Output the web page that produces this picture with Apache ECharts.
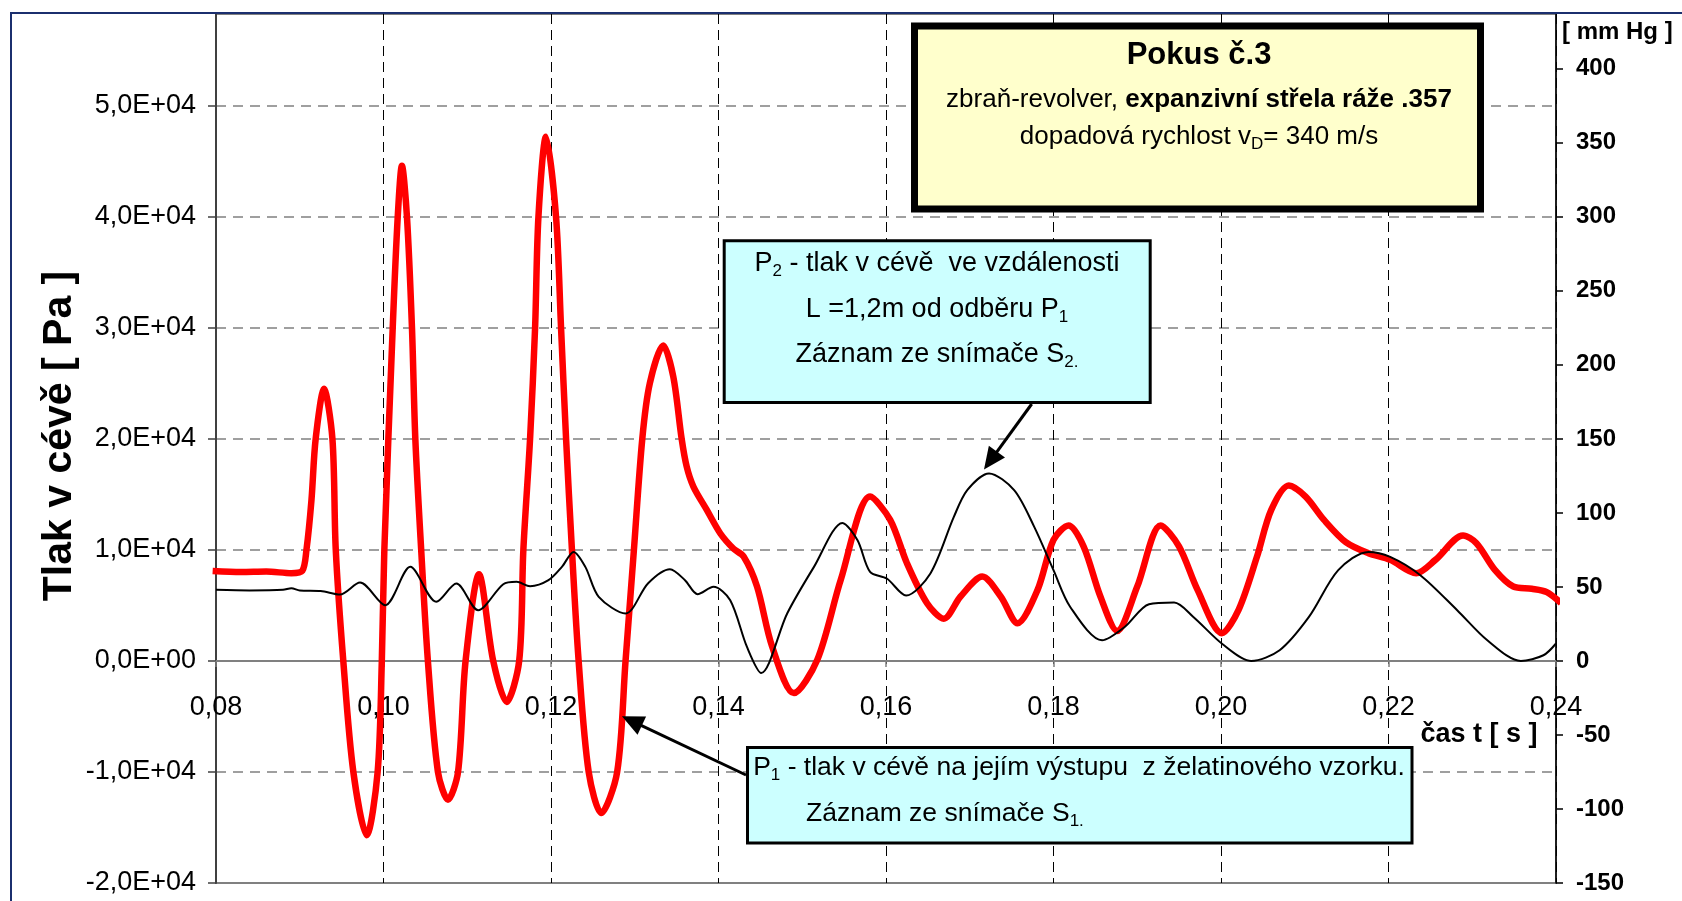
<!DOCTYPE html>
<html>
<head>
<meta charset="utf-8">
<script src="https://cdn.jsdelivr.net/npm/echarts@6/dist/echarts.min.js"></script>
<style>
html,body{margin:0;padding:0;background:#ffffff;}
#chart{width:1682px;height:901px;}
</style>
</head>
<body>
<div id="chart"></div>
<script>
// ---- axis settings ----
const xMin = 0.08, xMax = 0.24, xStep = 0.02;
const paMin = -20000, paMax = 58260, paStep = 10000;
const mmMin = -150, mmMax = 437.0, mmStep = 50;

// ---- texts ----
const titleMain = 'Pokus č.3';
const yTitleLeft = 'Tlak v cévě [ Pa ]';
const yTitleRight = '[ mm Hg ]';
const xTitle = 'čas t [ s ]';

// ---- P1 : pressure at the vessel outlet (red) [t (s), Pa] ----
const p1Series = [
  [0.0796, 8100], [0.0830, 8000], [0.0860, 8050], [0.0890, 7900], [0.0903, 8100],
  [0.0908, 10000], [0.0914, 14500], [0.0919, 20000], [0.0929, 24500], [0.0939, 20000],
  [0.0943, 10000], [0.0952, 0], [0.0964, -10000], [0.0980, -15700], [0.0993, -10000],
  [0.0998, 0], [0.1001, 10000], [0.1011, 30000], [0.1017, 40000], [0.1022, 44600],
  [0.1028, 40000], [0.1034, 30000], [0.1038, 20000], [0.1045, 10000], [0.1053, 0],
  [0.1065, -10000], [0.1077, -12500], [0.1089, -10000], [0.1098, 0], [0.1114, 7800],
  [0.1131, 0], [0.1147, -3700], [0.1162, 0], [0.1167, 10000], [0.1175, 20000],
  [0.1181, 30000], [0.1185, 40000], [0.1194, 47200], [0.1206, 40000], [0.1212, 30000],
  [0.1218, 20000], [0.1225, 10000], [0.1233, 0], [0.1245, -10000], [0.1260, -13700],
  [0.1279, -10000], [0.1289, 0], [0.1299, 10000], [0.1309, 20000], [0.1318, 25000],
  [0.1334, 28400], [0.1346, 25600], [0.1356, 20000], [0.1362, 17500], [0.1370, 15700],
  [0.1386, 13600], [0.1402, 11500], [0.1418, 10100], [0.1430, 9400], [0.1446, 6700],
  [0.1464, 1300], [0.1490, -2900], [0.1518, 100], [0.1546, 7300], [0.1581, 14800],
  [0.1605, 12700], [0.1625, 8800], [0.1649, 5200], [0.1669, 3800], [0.1689, 5800],
  [0.1715, 7600], [0.1737, 5800], [0.1757, 3400], [0.1781, 6400], [0.1800, 10900],
  [0.1818, 12200], [0.1836, 10300], [0.1856, 5800], [0.1876, 2700], [0.1900, 6700],
  [0.1928, 12200], [0.1950, 10300], [0.1972, 6400], [0.2001, 2500], [0.2021, 4600],
  [0.2043, 9400], [0.2060, 13600], [0.2081, 15800], [0.2101, 14800], [0.2123, 12700],
  [0.2149, 10700], [0.2176, 9700], [0.2202, 9100], [0.2233, 7900], [0.2256, 9100],
  [0.2289, 11300], [0.2305, 10600], [0.2327, 8200], [0.2349, 6700], [0.2371, 6500],
  [0.2389, 6200], [0.2406, 5200]
];

// ---- P2 : pressure 1,2 m downstream (black) [t (s), Pa] ----
const p2Series = [
  [0.0800, 6400], [0.0840, 6350], [0.0880, 6400], [0.0890, 6550], [0.0900, 6350],
  [0.0925, 6300], [0.0948, 5980], [0.0972, 7060], [0.1002, 5020], [0.1032, 8470],
  [0.1063, 5320], [0.1087, 6970], [0.1113, 4570], [0.1143, 6910], [0.1159, 7120],
  [0.1175, 6730], [0.1197, 7270], [0.1213, 8470], [0.1227, 9820], [0.1241, 8470],
  [0.1257, 5770], [0.1289, 4270], [0.1316, 7000], [0.1342, 8260], [0.1360, 7270],
  [0.1375, 6010], [0.1394, 6670], [0.1414, 5470], [0.1434, 1260], [0.1451, -1080],
  [0.1482, 4270], [0.1514, 8470], [0.1548, 12430], [0.1566, 10870], [0.1581, 8020],
  [0.1601, 7420], [0.1624, 5890], [0.1653, 7870], [0.1681, 12970], [0.1697, 15380],
  [0.1723, 16880], [0.1753, 15380], [0.1777, 12070], [0.1800, 8170], [0.1820, 4860],
  [0.1858, 1860], [0.1885, 3060], [0.1914, 5110], [0.1944, 5260], [0.1967, 3960],
  [0.2002, 1500], [0.2036, 0], [0.2070, 960], [0.2105, 3960], [0.2140, 8170],
  [0.2176, 9820], [0.2202, 9370], [0.2238, 7720], [0.2282, 4570], [0.2318, 1860],
  [0.2358, 0], [0.2385, 510], [0.2400, 1570]
];

// arrow targets in data space [t, Pa]
const p2ArrowTarget = [0.1717, 17240];
const p1ArrowTarget = [0.12847, -4980];

const FONT = 'Arial, "Liberation Sans", sans-serif';

function sciLabel(v) {
  if (Math.abs(v) < 1e-9) return '0,0E+00';
  const e = Math.floor(Math.log10(Math.abs(v)) + 1e-9);
  const m = v / Math.pow(10, e);
  return m.toFixed(1).replace('.', ',') + 'E' + (e < 0 ? '-' : '+') + String(Math.abs(e)).padStart(2, '0');
}

const chart = echarts.init(document.getElementById('chart'), null, {renderer: 'canvas'});

const option = {
  animation: false,
  backgroundColor: '#ffffff',
  grid: {
    left: 216, right: 126, top: 14, bottom: 18,
    containLabel: false, outerBoundsMode: 'none',
    show: true, borderColor: '#808080', borderWidth: 2, backgroundColor: 'transparent'
  },
  xAxis: {
    type: 'value', min: xMin, max: xMax, interval: xStep, offset: 0,
    axisLine: {onZero: false, lineStyle: {color: '#808080', width: 2}},
    axisTick: {show: true, length: 6, lineStyle: {color: '#808080', width: 1.5}},
    axisLabel: {
      margin: 33, fontFamily: FONT, fontSize: 27, color: '#000',
      formatter: v => v.toFixed(2).replace('.', ',')
    },
    splitLine: {show: true, lineStyle: {color: '#000', width: 1, type: [10, 6]}}
  },
  yAxis: [
    {
      type: 'value', position: 'left', min: paMin, max: paMax, interval: paStep,
      axisLine: {show: true, lineStyle: {color: '#404040', width: 2}},
      axisTick: {show: true, length: 8, lineStyle: {color: '#404040', width: 1.5}},
      axisLabel: {margin: 20, fontFamily: FONT, fontSize: 27, color: '#000', showMaxLabel: false, formatter: sciLabel},
      splitLine: {show: true, lineStyle: {color: '#808080', width: 1.5, type: [10, 7]}}
    },
    {
      type: 'value', position: 'right', min: mmMin, max: mmMax, interval: mmStep,
      axisLine: {show: true, lineStyle: {color: '#000', width: 1.5}},
      axisTick: {show: true, length: 7, lineStyle: {color: '#000', width: 1.5}},
      axisLabel: {margin: 20, fontFamily: FONT, fontSize: 24, fontWeight: 'bold', color: '#000', showMaxLabel: false,
        formatter: v => String(Math.round(v))},
      splitLine: {show: false}
    }
  ],
  series: [
    {
      name: 'P1', type: 'line', data: p1Series, yAxisIndex: 0, showSymbol: false,
      smooth: 0.3, clip: false, z: 3,
      lineStyle: {color: '#ff0000', width: 6.5}, itemStyle: {color: '#ff0000'}
    },
    {
      name: 'P2', type: 'line', data: p2Series, yAxisIndex: 0, showSymbol: false,
      smooth: 0.3, clip: false, z: 4,
      lineStyle: {color: '#000000', width: 2}, itemStyle: {color: '#000'}
    }
  ]
};
chart.setOption(option);

// place the time axis on the zero pressure level (position taken from the library's own scale)
for (let i = 0; i < 3; i++) {
  const zeroPx = chart.convertToPixel({yAxisIndex: 0}, 0);
  const bottomPx = chart.convertToPixel({yAxisIndex: 0}, paMin);
  chart.setOption({xAxis: {offset: -(bottomPx - zeroPx)}});
}

function arrow(x1, y1, x2, y2, w, headLen, headHalf) {
  const dx = x2 - x1, dy = y2 - y1, L = Math.hypot(dx, dy);
  const ux = dx / L, uy = dy / L, nx = -uy, ny = ux;
  const bx = x2 - ux * headLen, by = y2 - uy * headLen;
  return [
    {type: 'line', z: 50, shape: {x1: x1, y1: y1, x2: bx + ux * 2, y2: by + uy * 2}, style: {stroke: '#000', lineWidth: w}},
    {type: 'polygon', z: 50, shape: {points: [[x2, y2], [bx + nx * headHalf, by + ny * headHalf], [bx - nx * headHalf, by - ny * headHalf]]},
      style: {fill: '#000'}}
  ];
}

const t2 = chart.convertToPixel({xAxisIndex: 0, yAxisIndex: 0}, p2ArrowTarget);
const t1 = chart.convertToPixel({xAxisIndex: 0, yAxisIndex: 0}, p1ArrowTarget);

const richBase = {
  a: {fontFamily: FONT, fontSize: 27, lineHeight: 32, fill: '#000'},
  s: {fontFamily: FONT, fontSize: 17, lineHeight: 32, padding: [14, 0, 0, 0], fill: '#000'}
};
const richP1 = {
  a: {fontFamily: FONT, fontSize: 26.5, lineHeight: 32, fill: '#000'},
  s: {fontFamily: FONT, fontSize: 17, lineHeight: 32, padding: [14, 0, 0, 0], fill: '#000'}
};

const graphics = [
  // outer chart frame
  {type: 'rect', z: 60, silent: true, shape: {x: 11, y: 13, width: 1700, height: 920},
    style: {fill: 'none', stroke: '#1b2f6e', lineWidth: 2}},
  // axis titles
  {type: 'text', z: 40, x: 60, y: 436, rotation: Math.PI / 2,
    style: {text: yTitleLeft, fontFamily: FONT, fontSize: 41, fontWeight: 'bold', fill: '#000', align: 'center', verticalAlign: 'middle'}},
  {type: 'text', z: 40, x: 1562, y: 32,
    style: {text: yTitleRight, fontFamily: FONT, fontSize: 24, fontWeight: 'bold', fill: '#000', align: 'left', verticalAlign: 'middle'}},
  {type: 'text', z: 40, x: 1479, y: 735,
    style: {text: xTitle, fontFamily: FONT, fontSize: 27, fontWeight: 'bold', fill: '#000', align: 'center', verticalAlign: 'middle'}},

  // title box
  {type: 'rect', z: 40, shape: {x: 914.5, y: 26, width: 566, height: 183},
    style: {fill: '#ffffcc', stroke: '#000', lineWidth: 7}},
  {type: 'text', z: 41, x: 1199, y: 55,
    style: {text: titleMain, fontFamily: FONT, fontSize: 31, fontWeight: 'bold', fill: '#000', align: 'center', verticalAlign: 'middle'}},
  {type: 'text', z: 41, x: 1199, y: 100,
    style: {text: '{a|zbraň-revolver, }{b|expanzivní střela ráže .357}', align: 'center', verticalAlign: 'middle',
      rich: {a: {fontFamily: FONT, fontSize: 26, fill: '#000'}, b: {fontFamily: FONT, fontSize: 26, fontWeight: 'bold', fill: '#000'}}}},
  {type: 'text', z: 41, x: 1199, y: 137,
    style: {text: '{a|dopadová rychlost v}{s|D}{a|= 340 m/s}', align: 'center', verticalAlign: 'middle',
      rich: {a: {fontFamily: FONT, fontSize: 26, lineHeight: 32, fill: '#000'}, s: {fontFamily: FONT, fontSize: 17, lineHeight: 32, padding: [14, 0, 0, 0], fill: '#000'}}}},

  // P2 box
  {type: 'rect', z: 40, shape: {x: 724.2, y: 240.8, width: 426, height: 161.7},
    style: {fill: '#ccffff', stroke: '#000', lineWidth: 3}},
  {type: 'text', z: 41, x: 937, y: 264,
    style: {text: '{a|P}{s|2}{a| - tlak v cévě  ve vzdálenosti}', align: 'center', verticalAlign: 'middle', rich: richBase}},
  {type: 'text', z: 41, x: 937, y: 310,
    style: {text: '{a|L =1,2m od odběru P}{s|1}', align: 'center', verticalAlign: 'middle', rich: richBase}},
  {type: 'text', z: 41, x: 937, y: 355,
    style: {text: '{a|Záznam ze snímače S}{s|2.}', align: 'center', verticalAlign: 'middle', rich: richBase}},

  // P1 box
  {type: 'rect', z: 40, shape: {x: 747.5, y: 747.5, width: 664.5, height: 95.5},
    style: {fill: '#ccffff', stroke: '#000', lineWidth: 3}},
  {type: 'text', z: 41, x: 1079, y: 768,
    style: {text: '{a|P}{s|1}{a| - tlak v cévě na jejím výstupu  z želatinového vzorku.}', align: 'center', verticalAlign: 'middle', rich: richP1}},
  {type: 'text', z: 41, x: 806, y: 814,
    style: {text: '{a|Záznam ze snímače S}{s|1.}', align: 'left', verticalAlign: 'middle', rich: richP1}}
]
  .concat(arrow(1031.7, 404, t2[0], t2[1], 3, 22, 10))
  .concat(arrow(746, 775, t1[0], t1[1], 3, 22, 10));

chart.setOption({graphic: graphics});
</script>
</body>
</html>
